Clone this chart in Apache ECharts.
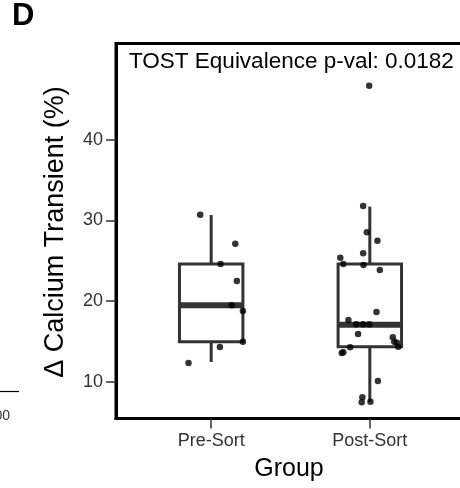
<!DOCTYPE html>
<html>
<head>
<meta charset="utf-8">
<script src="https://cdn.jsdelivr.net/npm/echarts@6/dist/echarts.min.js"></script>
<style>
  html, body { margin: 0; padding: 0; background: #fff; }
  #chart { width: 460px; height: 488px; }
</style>
</head>
<body>
<div id="chart"></div>
<script>
// Groups on the x axis
const groups = ['Pre-Sort', 'Post-Sort'];
const groupPos = [1, 2];
const yTicks = [10, 20, 30, 40];

// Box summaries: [lower whisker, Q1, median, Q3, upper whisker]
const preBox = [12.45, 14.96, 19.47, 24.58, 30.66];
const postBox = [7.5, 14.34, 17.05, 24.58, 31.7];

// Individual cells (jittered position on the group axis, value in %)
const preX = [0.931, 1.152, 1.059, 1.162, 1.129, 1.200, 1.200, 1.055, 0.857];
const preY = [30.69, 27.10, 24.58, 22.48, 19.47, 18.76, 14.96, 14.30, 12.32];

const postX = [1.996, 1.958, 1.981, 2.048, 1.814, 1.958, 1.833, 1.960, 2.063,
               2.042, 1.865, 1.915, 1.958, 1.997, 1.926, 2.145, 2.154, 2.171,
               2.179, 1.876, 1.833, 1.823, 2.051, 1.953, 1.949, 2.004];
const postY = [46.68, 31.77, 28.51, 27.47, 25.37, 25.91, 24.58, 24.46, 23.84,
               18.64, 17.65, 17.11, 17.11, 17.11, 15.91, 15.50, 14.96, 14.83,
               14.34, 14.26, 13.64, 13.56, 10.09, 8.07, 7.45, 7.52];

const pValue = '0.0182';

const FONT = '"Liberation Sans", Arial, Helvetica, sans-serif';
const BOX_HALF = 0.2;
const BOX_COLOR = '#333333';

const boxData = [[groupPos[0], ...preBox], [groupPos[1], ...postBox]];
const points = preX.map((x, i) => [x, preY[i]])
  .concat(postX.map((x, i) => [x, postY[i]]));

function renderBox(params, api) {
  const c = api.value(0);
  const lo = api.value(1), q1 = api.value(2), med = api.value(3), q3 = api.value(4), hi = api.value(5);
  const tl = api.coord([c - BOX_HALF, q3]);
  const br = api.coord([c + BOX_HALF, q1]);
  const wTop = api.coord([c, hi]);
  const wQ3 = api.coord([c, q3]);
  const wQ1 = api.coord([c, q1]);
  const wBot = api.coord([c, lo]);
  const mL = api.coord([c - BOX_HALF, med]);
  const mR = api.coord([c + BOX_HALF, med]);
  const line = { stroke: BOX_COLOR, lineWidth: 3, fill: null };
  return {
    type: 'group',
    children: [
      { type: 'line', shape: { x1: wTop[0], y1: wTop[1], x2: wQ3[0], y2: wQ3[1] }, style: line },
      { type: 'line', shape: { x1: wQ1[0], y1: wQ1[1], x2: wBot[0], y2: wBot[1] }, style: line },
      { type: 'rect', shape: { x: tl[0], y: tl[1], width: br[0] - tl[0], height: br[1] - tl[1] },
        style: { stroke: BOX_COLOR, lineWidth: 3, fill: '#ffffff' } },
      { type: 'line', shape: { x1: mL[0], y1: mL[1], x2: mR[0], y2: mR[1] },
        style: { stroke: BOX_COLOR, lineWidth: 6 } }
    ]
  };
}

const chart = echarts.init(document.getElementById('chart'), null, { renderer: 'canvas' });
chart.setOption({
  animation: false,
  backgroundColor: '#ffffff',
  grid: {
    left: 116, top: 43.5, right: -5, bottom: 69.5,
    containLabel: false, outerBoundsMode: 'none',
    show: true, borderColor: '#000000', borderWidth: 3, backgroundColor: 'transparent'
  },
  xAxis: {
    type: 'value', min: 0.4, max: 2.6,
    splitLine: { show: false },
    axisLine: { show: true, onZero: false, lineStyle: { color: '#000000', width: 3 } },
    axisTick: { show: true, length: 10, customValues: groupPos, lineStyle: { color: '#333333', width: 1.5 } },
    axisLabel: {
      customValues: groupPos, margin: 14,
      formatter: v => groups[Math.round(v) - 1],
      color: '#333333', fontSize: 18, fontFamily: FONT
    }
  },
  yAxis: {
    type: 'value', min: 5.44, max: 51.91,
    splitLine: { show: false },
    axisLine: { show: true, onZero: false, lineStyle: { color: '#000000', width: 3 } },
    axisTick: { show: true, length: 10, customValues: yTicks, lineStyle: { color: '#333333', width: 1.5 } },
    axisLabel: {
      customValues: yTicks, margin: 13,
      color: '#333333', fontSize: 18, fontFamily: FONT
    }
  },
  graphic: [
    { type: 'text', left: 12, top: 1,
      style: { text: 'D', font: 'bold 31px ' + FONT, fill: '#000000' } },
    { type: 'text', x: 129, y: 62, style: {
        text: 'TOST Equivalence p-val: ' + pValue, font: '22.5px ' + FONT, fill: '#000000',
        textAlign: 'left', textVerticalAlign: 'middle' } },
    { type: 'text', x: 56, y: 232, rotation: Math.PI / 2, style: {
        text: 'Δ Calcium Transient (%)', font: '27px ' + FONT, fill: '#000000',
        textAlign: 'center', textVerticalAlign: 'middle' } },
    { type: 'text', x: 289, y: 469, style: {
        text: 'Group', font: '25px ' + FONT, fill: '#000000',
        textAlign: 'center', textVerticalAlign: 'middle' } },
    // edge of the neighbouring panel
    { type: 'line', shape: { x1: 0, y1: 391.5, x2: 19, y2: 391.5 },
      style: { stroke: '#000000', lineWidth: 1.2 } },
    { type: 'text', x: 10, y: 416, style: {
        text: '100', font: '14px ' + FONT, fill: '#333333',
        textAlign: 'right', textVerticalAlign: 'middle' } }
  ],
  series: [
    {
      type: 'custom', z: 2,
      renderItem: renderBox,
      encode: { x: 0, y: [1, 2, 3, 4, 5] },
      data: boxData
    },
    {
      type: 'scatter', z: 3,
      symbol: 'circle', symbolSize: 6.5,
      itemStyle: { color: '#000000' },
      data: points
    }
  ]
});
</script>
</body>
</html>
